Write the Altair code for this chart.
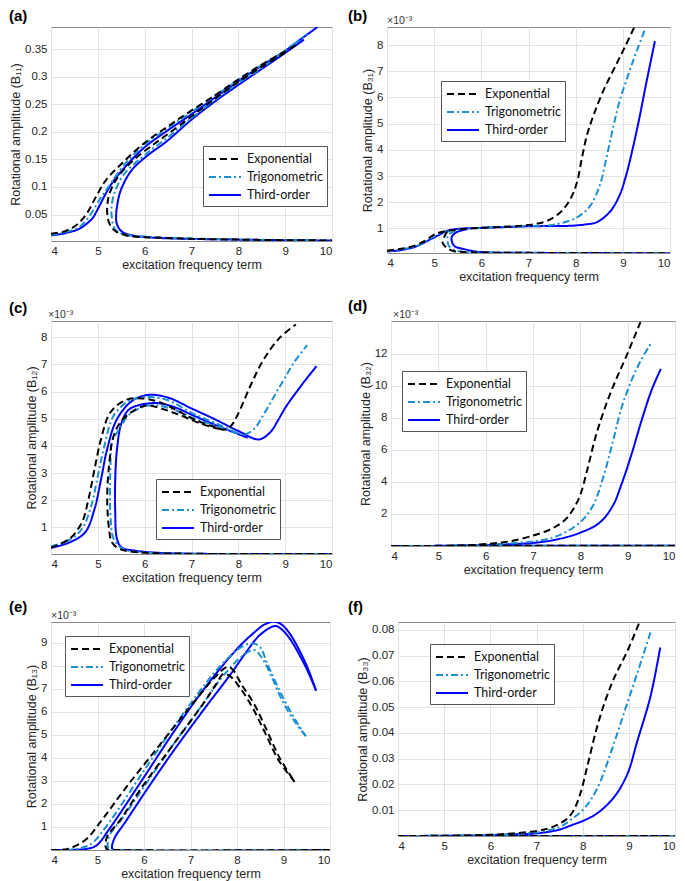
import altair as alt
import pandas as pd

METHODS = ["Exponential", "Trigonometric", "Third-order"]
COLORS = ["#000000", "#1b8fcf", "#0000ff"]
DASHES = [[7, 4], [7, 3, 2, 3], [1, 0]]
XTICKS = [4, 5, 6, 7, 8, 9, 10]
XTITLE = "excitation frequency term"

# ---------------- (a) B11 ----------------
A_EXP_UP = [(4.0,0.015),(4.3,0.02),(4.53,0.03),(4.75,0.05),(4.96,0.082),(5.17,0.112),(5.53,0.144),(6.03,0.182),(6.5,0.21),(6.88,0.232),(7.5,0.266),(8.0,0.295),(8.5,0.322),(9.0,0.346),(9.23,0.357)]
A_EXP_LO = [(9.0,0.343),(8.5,0.318),(8.0,0.29),(7.5,0.26),(7.0,0.228),(6.5,0.196),(6.17,0.176),(5.74,0.147),(5.42,0.117),(5.25,0.088),(5.2,0.065),(5.21,0.045),(5.25,0.033),(5.32,0.024),(5.39,0.019),(5.5,0.015),(5.67,0.011),(6.0,0.009),(7.0,0.006),(8.0,0.0045),(9.0,0.0035),(10.0,0.003)]
A_TRI_UP = [(4.0,0.013),(4.3,0.018),(4.6,0.027),(4.82,0.047),(5.03,0.076),(5.25,0.103),(5.57,0.141),(6.0,0.177),(6.5,0.207),(7.0,0.236),(7.5,0.265),(8.0,0.294),(8.5,0.321),(9.0,0.347),(9.48,0.378)]
A_TRI_LO = [(9.2,0.36),(8.5,0.316),(8.0,0.288),(7.5,0.258),(7.0,0.225),(6.5,0.19),(6.0,0.158),(5.56,0.123),(5.35,0.088),(5.29,0.06),(5.3,0.045),(5.33,0.03),(5.38,0.022),(5.5,0.016),(5.7,0.012),(6.0,0.01),(7.0,0.0065),(8.0,0.0047),(9.0,0.0037),(10.0,0.003)]
A_THI_UP = [(4.0,0.012),(4.3,0.016),(4.6,0.024),(4.8,0.036),(4.9,0.045),(5.03,0.065),(5.17,0.088),(5.32,0.109),(5.6,0.138),(6.0,0.172),(6.5,0.203),(6.9,0.226),(7.5,0.262),(8.0,0.292),(8.5,0.32),(9.0,0.347),(9.4,0.372),(9.69,0.39)]
A_THI_LO = [(9.4,0.367),(9.0,0.343),(8.5,0.314),(8.0,0.285),(7.5,0.255),(7.0,0.222),(6.46,0.182),(6.03,0.155),(5.71,0.129),(5.49,0.094),(5.41,0.065),(5.39,0.047),(5.4,0.035),(5.45,0.025),(5.53,0.018),(5.65,0.014),(5.81,0.011),(6.2,0.008),(6.9,0.006),(8.0,0.0045),(9.0,0.0035),(10.0,0.003)]

# ---------------- (b) B31 (x1e-3) ----------------
B_EXP_UP = [(4.0,0.15),(4.3,0.22),(4.6,0.35),(4.8,0.52),(5.0,0.76),(5.2,0.88),(5.5,0.96),(6.0,1.02),(6.5,1.06),(6.85,1.1),(7.15,1.17),(7.4,1.29),(7.68,1.62),(7.89,2.13),(8.03,2.77),(8.13,3.67),(8.24,4.56),(8.38,5.33),(8.58,6.23),(8.86,7.26),(9.05,7.95),(9.24,8.67)]
B_EXP_LO = [(5.28,0.88),(5.22,0.7),(5.18,0.45),(5.25,0.28),(5.39,0.14),(5.6,0.1),(6.0,0.08),(7.0,0.065),(8.0,0.058),(9.0,0.053),(10.0,0.05)]
B_TRI_UP = [(4.0,0.13),(4.3,0.2),(4.6,0.3),(4.8,0.47),(5.0,0.7),(5.2,0.84),(5.5,0.95),(6.0,1.02),(6.5,1.06),(7.0,1.09),(7.54,1.14),(8.03,1.42),(8.31,1.87),(8.51,2.64),(8.65,3.67),(8.79,4.82),(8.93,5.85),(9.14,7.0),(9.3,7.8),(9.47,8.6)]
B_TRI_LO = [(5.45,0.92),(5.3,0.75),(5.28,0.6),(5.31,0.34),(5.42,0.18),(5.6,0.11),(6.0,0.085),(7.0,0.065),(8.0,0.058),(10.0,0.05)]
B_THI_UP = [(4.0,0.12),(4.3,0.17),(4.6,0.3),(4.79,0.46),(5.07,0.72),(5.28,0.91),(5.5,0.98),(6.0,1.02),(6.5,1.05),(7.0,1.08),(7.5,1.09),(7.89,1.1),(8.2,1.15),(8.44,1.23),(8.72,1.62),(8.93,2.26),(9.07,3.03),(9.21,4.05),(9.35,5.21),(9.49,6.49),(9.68,8.15)]
B_THI_LO = [(5.7,0.97),(5.47,0.85),(5.37,0.66),(5.42,0.34),(5.63,0.21),(5.98,0.1),(7.0,0.07),(8.0,0.06),(10.0,0.05)]

# ---------------- (c) B12 (x1e-3) ----------------
C_EXP_UP = [(4.0,0.26),(4.39,0.57),(4.66,1.18),(4.8,2.04),(4.93,3.15),(5.07,4.26),(5.27,5.24),(5.61,5.7),(5.95,5.75),(6.3,5.62),(6.7,5.3),(7.0,5.02),(7.4,4.75),(7.72,4.6),(7.85,4.75),(7.99,5.16),(8.27,6.26),(8.54,7.18),(8.88,7.98),(9.23,8.47)]
C_EXP_LO = [(7.6,4.62),(7.2,4.82),(6.8,5.1),(6.4,5.35),(6.01,5.48),(5.54,4.99),(5.34,4.38),(5.24,3.28),(5.2,2.04),(5.24,0.94),(5.3,0.45),(5.47,0.2),(5.88,0.08),(7.0,0.03),(10.0,0.02)]
C_TRI_UP = [(4.0,0.3),(4.4,0.55),(4.66,0.94),(4.86,1.8),(5.0,2.9),(5.14,4.0),(5.34,5.12),(5.68,5.67),(6.1,5.8),(6.5,5.68),(7.0,5.22),(7.5,4.85),(8.13,4.43),(8.35,4.65),(8.54,5.16),(8.95,6.38),(9.2,7.1),(9.47,7.71)]
C_TRI_LO = [(8.0,4.45),(7.5,4.75),(7.0,5.05),(6.6,5.35),(6.15,5.5),(5.7,5.2),(5.45,4.6),(5.3,4.13),(5.27,3.28),(5.27,1.43),(5.34,0.57),(5.54,0.2),(6.0,0.08),(7.0,0.03),(10.0,0.02)]
C_THI_UP = [(4.0,0.24),(4.4,0.45),(4.73,0.82),(4.93,1.68),(5.07,2.78),(5.2,3.89),(5.41,4.99),(5.74,5.67),(6.08,5.88),(6.5,5.78),(7.0,5.38),(7.5,4.98),(8.0,4.55),(8.44,4.24),(8.68,4.5),(8.85,4.95),(9.02,5.45),(9.36,6.26),(9.67,6.94)]
C_THI_LO = [(8.2,4.3),(7.5,4.78),(7.0,5.15),(6.6,5.45),(6.2,5.58),(5.68,5.36),(5.51,4.87),(5.41,3.89),(5.37,2.66),(5.37,1.68),(5.41,0.57),(5.51,0.26),(5.81,0.14),(6.5,0.05),(10.0,0.02)]

# ---------------- (d) B32 (x1e-3) ----------------
D_EXP_UP = [(4.0,0.0),(5.0,0.01),(5.5,0.03),(6.0,0.12),(6.5,0.29),(7.0,0.65),(7.3,0.95),(7.5,1.25),(7.7,1.7),(7.85,2.3),(8.0,3.2),(8.15,4.8),(8.33,6.9),(8.54,8.8),(8.74,10.3),(8.95,11.7),(9.27,13.98)]
D_EXP_LO = [(5.2,0.02),(10.0,0.02)]
D_TRI_UP = [(4.0,0.0),(5.0,0.01),(6.0,0.08),(6.5,0.17),(7.0,0.29),(7.49,0.6),(7.98,1.44),(8.26,2.48),(8.47,4.15),(8.68,6.44),(8.88,8.73),(9.09,10.4),(9.28,11.6),(9.48,12.6)]
D_TRI_LO = [(5.3,0.02),(10.0,0.02)]
D_THI_UP = [(4.0,0.0),(5.0,0.01),(6.0,0.06),(6.5,0.11),(7.0,0.19),(7.49,0.4),(7.98,0.81),(8.4,1.44),(8.68,2.48),(8.88,3.94),(9.09,5.81),(9.3,7.9),(9.51,9.77),(9.7,11.06)]
D_THI_LO = [(5.4,0.02),(10.0,0.02)]

# ---------------- (e) B13 (x1e-3) ----------------
E_EXP_UP = [(4.0,0.0),(4.2,0.01),(4.36,0.05),(4.55,0.2),(4.77,0.49),(5.12,1.37),(5.6,2.68),(6.29,4.44),(6.98,6.19),(7.53,7.51),(7.78,7.94),(7.9,7.85),(8.09,7.21),(8.37,6.33),(8.65,5.16),(8.92,3.99),(9.24,2.96)]
E_EXP_LO = [(9.24,2.96),(8.9,3.88),(8.62,5.02),(8.35,6.12),(8.08,7.0),(7.85,7.55),(7.71,7.65),(7.55,7.2),(7.32,6.49),(6.63,4.58),(5.94,2.68),(5.46,1.22),(5.22,0.64),(5.17,0.2),(5.2,0.03),(5.4,0.0),(10.0,0.0)]
E_TRI_UP = [(4.0,0.0),(4.4,0.01),(4.57,0.05),(4.75,0.15),(4.91,0.34),(5.26,1.22),(5.94,3.27),(6.63,5.32),(7.32,7.22),(7.6,7.9),(7.87,8.45),(8.1,8.82),(8.34,8.97),(8.5,8.8),(8.65,8.09),(8.99,6.62),(9.27,5.6),(9.48,4.94)]
E_TRI_LO = [(9.48,4.94),(9.25,5.55),(8.97,6.5),(8.75,7.5),(8.55,8.3),(8.37,8.68),(8.1,8.4),(7.87,7.95),(7.6,7.3),(7.32,6.49),(6.63,4.58),(6.08,2.98),(5.53,1.37),(5.26,0.64),(5.22,0.2),(5.25,0.03),(5.45,0.0),(10.0,0.0)]
E_THI_UP = [(4.0,0.0),(4.5,0.01),(4.77,0.05),(4.98,0.2),(5.26,0.93),(5.94,2.98),(6.63,5.1),(7.32,7.07),(8.01,8.75),(8.4,9.5),(8.6,9.8),(8.8,9.91),(8.95,9.8),(9.13,9.41),(9.48,8.09),(9.7,6.92)]
E_THI_LO = [(9.7,6.92),(9.48,7.94),(9.13,9.19),(8.95,9.6),(8.82,9.73),(8.5,9.35),(8.2,8.6),(7.87,7.65),(7.32,6.19),(6.63,4.29),(6.08,2.68),(5.6,1.22),(5.36,0.49),(5.32,0.05),(5.5,0.0),(10.0,0.0)]

# ---------------- (f) B33 ----------------
F_EXP_UP = [(4.0,0.0),(5.0,0.0001),(6.0,0.0005),(6.49,0.001),(7.05,0.0021),(7.3,0.0032),(7.5,0.0048),(7.65,0.0065),(7.8,0.0098),(7.95,0.0165),(8.1,0.027),(8.3,0.0415),(8.5,0.053),(8.7,0.062),(8.97,0.0718),(9.22,0.0825)]
F_EXP_LO = [(5.2,0.0),(10.0,0.0)]
F_TRI_UP = [(4.0,0.0),(5.0,0.0001),(6.0,0.0004),(6.5,0.0008),(7.05,0.0015),(7.5,0.0035),(7.76,0.0065),(8.05,0.011),(8.33,0.019),(8.62,0.0329),(8.9,0.048),(9.18,0.063),(9.47,0.079)]
F_TRI_LO = [(5.3,0.0),(10.0,0.0)]
F_THI_UP = [(4.0,0.0),(5.0,0.0001),(6.0,0.0003),(6.5,0.0006),(7.05,0.0011),(7.5,0.0025),(7.76,0.0042),(8.05,0.0062),(8.33,0.009),(8.69,0.0153),(8.97,0.0241),(9.18,0.0366),(9.47,0.0542),(9.68,0.0731)]
F_THI_LO = [(5.4,0.0),(10.0,0.0)]

TICK_FONT = "Liberation Sans"
LEG_FONT = "Lato"


def frame(exp, tri, thi):
    rows = []
    for method, segs in (("Third-order", thi), ("Trigonometric", tri), ("Exponential", exp)):
        for s, seg in enumerate(segs):
            for i, (x, y) in enumerate(seg):
                rows.append({"method": method, "seg": f"{method}-{s}", "i": i, "x": x, "y": y})
    return pd.DataFrame(rows)


def panel(letter, df, ytitle, ydom, yticks, yfmt, w, h, leg, lab, sci=None):
    legend = alt.Legend(
        orient="none", legendX=leg[0], legendY=leg[1], symbolType="M-2,0H2",
        symbolSize=256, symbolStrokeWidth=2, symbolOffset=9, labelFont=LEG_FONT,
        labelFontSize=12.5, labelColor="#111111", strokeColor="#555555",
        fillColor="white", padding=4, rowPadding=2, labelOffset=13, labelLimit=200,
    )
    lines = alt.Chart(df).mark_line(clip=True, strokeWidth=2, interpolate="catmull-rom").encode(
        x=alt.X("x:Q", scale=alt.Scale(domain=[4, 10], nice=False, zero=False),
                axis=alt.Axis(values=XTICKS, title=XTITLE, format="d")),
        y=alt.Y("y:Q", scale=alt.Scale(domain=ydom, nice=False, zero=False),
                axis=alt.Axis(values=yticks, title=ytitle, format=yfmt)),
        color=alt.Color("method:N", title=None,
                        scale=alt.Scale(domain=METHODS, range=COLORS), legend=legend),
        strokeDash=alt.StrokeDash("method:N", title=None,
                                  scale=alt.Scale(domain=METHODS, range=DASHES), legend=legend),
        detail="seg:N",
        order=alt.Order("i:Q"),
    )
    layers = [lines]
    layers.append(
        alt.Chart(pd.DataFrame({"t": [letter]})).mark_text(
            align="left", baseline="top", font=TICK_FONT, fontSize=15,
            fontWeight="bold", color="black",
        ).encode(x=alt.value(lab[0]), y=alt.value(lab[1]), text="t:N")
    )
    if sci is not None:
        layers.append(
            alt.Chart(pd.DataFrame({"t": ["×10⁻³"]})).mark_text(
                align="left", baseline="bottom", font=TICK_FONT, fontSize=10.5,
                color="#333333",
            ).encode(x=alt.value(sci[0]), y=alt.value(sci[1]), text="t:N")
        )
    return alt.layer(*layers).properties(width=w, height=h)


pa = panel("(a)", frame([A_EXP_UP, A_EXP_LO], [A_TRI_UP, A_TRI_LO], [A_THI_UP, A_THI_LO]),
           "Rotational amplitude (B₁₁)", [0.002, 0.39],
           [0.05, 0.1, 0.15, 0.2, 0.25, 0.3, 0.35], ".2~f", 281, 214, (152, 119), (-42, -18))
pb = panel("(b)", frame([B_EXP_UP, B_EXP_LO], [B_TRI_UP, B_TRI_LO], [B_THI_UP, B_THI_LO]),
           "Rotational amplitude (B₃₁)", [0.06, 8.69],
           [1, 2, 3, 4, 5, 6, 7, 8], "d", 283, 226, (54, 54), (-39, -18), (0, -1))
pc = panel("(c)", frame([C_EXP_UP, C_EXP_LO], [C_TRI_UP, C_TRI_LO], [C_THI_UP, C_THI_LO]),
           "Rotational amplitude (B₁₂)", [0.02, 8.6],
           [1, 2, 3, 4, 5, 6, 7, 8], "d", 281, 233, (105, 158), (-42, -20), (-3, -1))
pd_ = panel("(d)", frame([D_EXP_UP, D_EXP_LO], [D_TRI_UP, D_TRI_LO], [D_THI_UP, D_THI_LO]),
            "Rotational amplitude (B₃₂)", [0.0, 14.05],
            [2, 4, 6, 8, 10, 12], "d", 284, 225, (11, 50), (-43, -22), (2, -1))
pe = panel("(e)", frame([E_EXP_UP, E_EXP_LO], [E_TRI_UP, E_TRI_LO], [E_THI_UP, E_THI_LO]),
           "Rotational amplitude (B₁₃)", [0.0, 9.9],
           [1, 2, 3, 4, 5, 6, 7, 8, 9], "d", 279, 228, (14, 14), (-42, -22), (0, -1))
pf = panel("(f)", frame([F_EXP_UP, F_EXP_LO], [F_TRI_UP, F_TRI_LO], [F_THI_UP, F_THI_LO]),
           "Rotational amplitude (B₃₃)", [0.0, 0.083],
           [0.01, 0.02, 0.03, 0.04, 0.05, 0.06, 0.07, 0.08], ".2~f", 277, 214, (32, 22), (-50, -22))

RES = dict(x="independent", y="independent", color="independent", strokeDash="independent")


def row(l, r, gap):
    return alt.hconcat(l, r, spacing=gap, bounds="flush").resolve_scale(**RES).resolve_legend(
        color="independent", strokeDash="independent")


chart = alt.vconcat(
    row(pa, pb, 55), row(pc, pd_, 59), row(pe, pf, 68), spacing=14
).resolve_scale(**RES).resolve_legend(
    color="independent", strokeDash="independent"
).properties(
    padding={"left": 0, "top": 0, "right": 0, "bottom": 0}
).configure_view(
    stroke="#8a8a8a", strokeWidth=1
).configure_axis(
    grid=True, gridColor="#e2e2e2", gridWidth=1, domain=False, ticks=False,
    labelFont=TICK_FONT, labelFontSize=11.5, labelColor="#262626", labelPadding=4,
    titleFont=TICK_FONT, titleFontSize=12.5, titleFontWeight="normal", titleColor="#262626",
    titlePadding=2,
)

chart.save("out.html", embed_options={"renderer": "svg", "actions": False})
